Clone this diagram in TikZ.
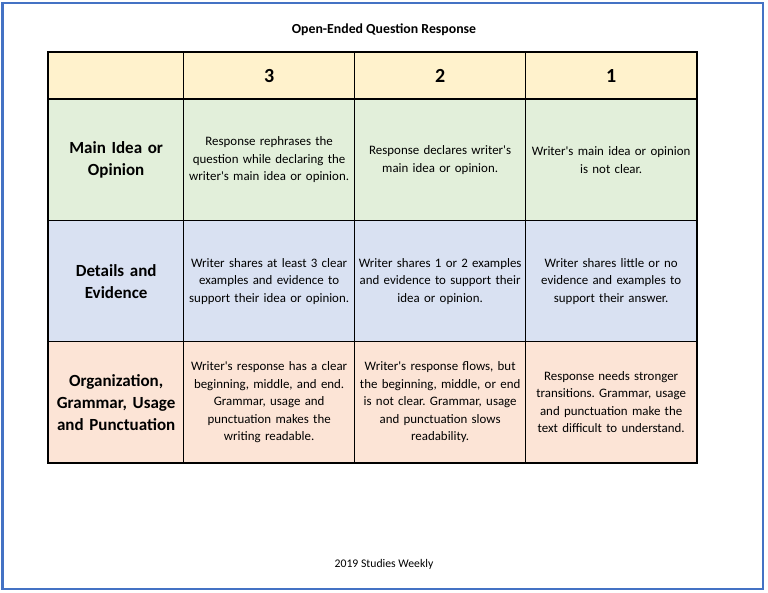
\documentclass[tikz,border=0pt]{standalone}
\usepackage{fontspec}
\setmainfont{Carlito}
\frenchspacing
\definecolor{headyellow}{HTML}{FFF2CC}
\definecolor{ideagreen}{HTML}{E2EFDA}
\definecolor{detailblue}{HTML}{D9E1F2}
\definecolor{orgorange}{HTML}{FCE4D6}
\definecolor{pageblue}{HTML}{4472C4}
\newcommand{\bodyfont}{\fontsize{12.9bp}{17.5bp}\selectfont}
\newcommand{\labelfont}{\fontsize{17bp}{22bp}\selectfont\bfseries}
\newcommand{\apos}{\textquotesingle}
\begin{document}
\begin{tikzpicture}[x=1bp,y=-1bp,
  cell/.style={draw=black,line width=1.3bp,anchor=north west,inner sep=0pt,align=center},
  labelcell/.style={cell,text width=131bp,minimum width=135bp,font=\labelfont},
  textcell/.style={cell,text width=169bp,minimum width=171bp,font=\bodyfont}]

  \useasboundingbox (0,0) rectangle (768,593);
  \draw[pageblue,line width=2bp] (2.5,3.5) rectangle (763,588.5);

  \node (title) at (384,30) {\fontsize{13.8bp}{16bp}\selectfont\bfseries Open-Ended Question Response};

  % header row
  \node[labelcell,fill=headyellow,minimum height=46.5bp] (h0) at (48,52) {};
  \foreach \n/\x in {3/183,2/354,1/525}{
  \node[textcell,fill=headyellow,minimum height=46.5bp,font=\fontsize{20bp}{22bp}\selectfont\bfseries] (h\n) at (\x,52) {\n};
  }

  % main idea
  \node[labelcell,fill=ideagreen,minimum height=121.5bp] (m0) at (48,98.5) {Main Idea or\\Opinion};
  \node[textcell,fill=ideagreen,minimum height=121.5bp] (m3) at (183,98.5) {Response rephrases the\\question while declaring the\\writer\apos s main idea or opinion.};
  \node[textcell,fill=ideagreen,minimum height=121.5bp] (m2) at (354,98.5) {Response declares writer\apos s\\main idea or opinion.};
  \node[textcell,fill=ideagreen,minimum height=121.5bp] (m1) at (525,98.5) {Writer\apos s main idea or opinion\\is not clear.};

  % details
  \node[labelcell,fill=detailblue,minimum height=121bp] (d0) at (48,220) {Details and\\Evidence};
  \node[textcell,fill=detailblue,minimum height=121bp] (d3) at (183,220) {Writer shares at least 3 clear\\examples and evidence to\\support their idea or opinion.};
  \node[textcell,fill=detailblue,minimum height=121bp] (d2) at (354,220) {Writer shares 1 or 2 examples\\and evidence to support their\\idea or opinion.};
  \node[textcell,fill=detailblue,minimum height=121bp] (d1) at (525,220) {Writer shares little or no\\evidence and examples to\\support their answer.};

  % organization
  \node[labelcell,fill=orgorange,minimum height=121bp] (o0) at (48,341) {Organization,\\Grammar, Usage\\and Punctuation};
  \node[textcell,fill=orgorange,minimum height=121bp] (o3) at (183,341) {Writer\apos s response has a clear\\beginning, middle, and end.\\Grammar, usage and\\punctuation makes the\\writing readable.};
  \node[textcell,fill=orgorange,minimum height=121bp] (o2) at (354,341) {Writer\apos s response flows, but\\the beginning, middle, or end\\is not clear. Grammar, usage\\and punctuation slows\\readability.};
  \node[textcell,fill=orgorange,minimum height=121bp] (o1) at (525,341) {Response needs stronger\\transitions. Grammar, usage\\and punctuation make the\\text difficult to understand.};

  \draw[line width=2.2bp] (h0.north west) rectangle (o1.south east);

  \node (footer) at (384,564) {\fontsize{11.7bp}{14bp}\selectfont 2019 Studies Weekly};

\end{tikzpicture}
\end{document}
